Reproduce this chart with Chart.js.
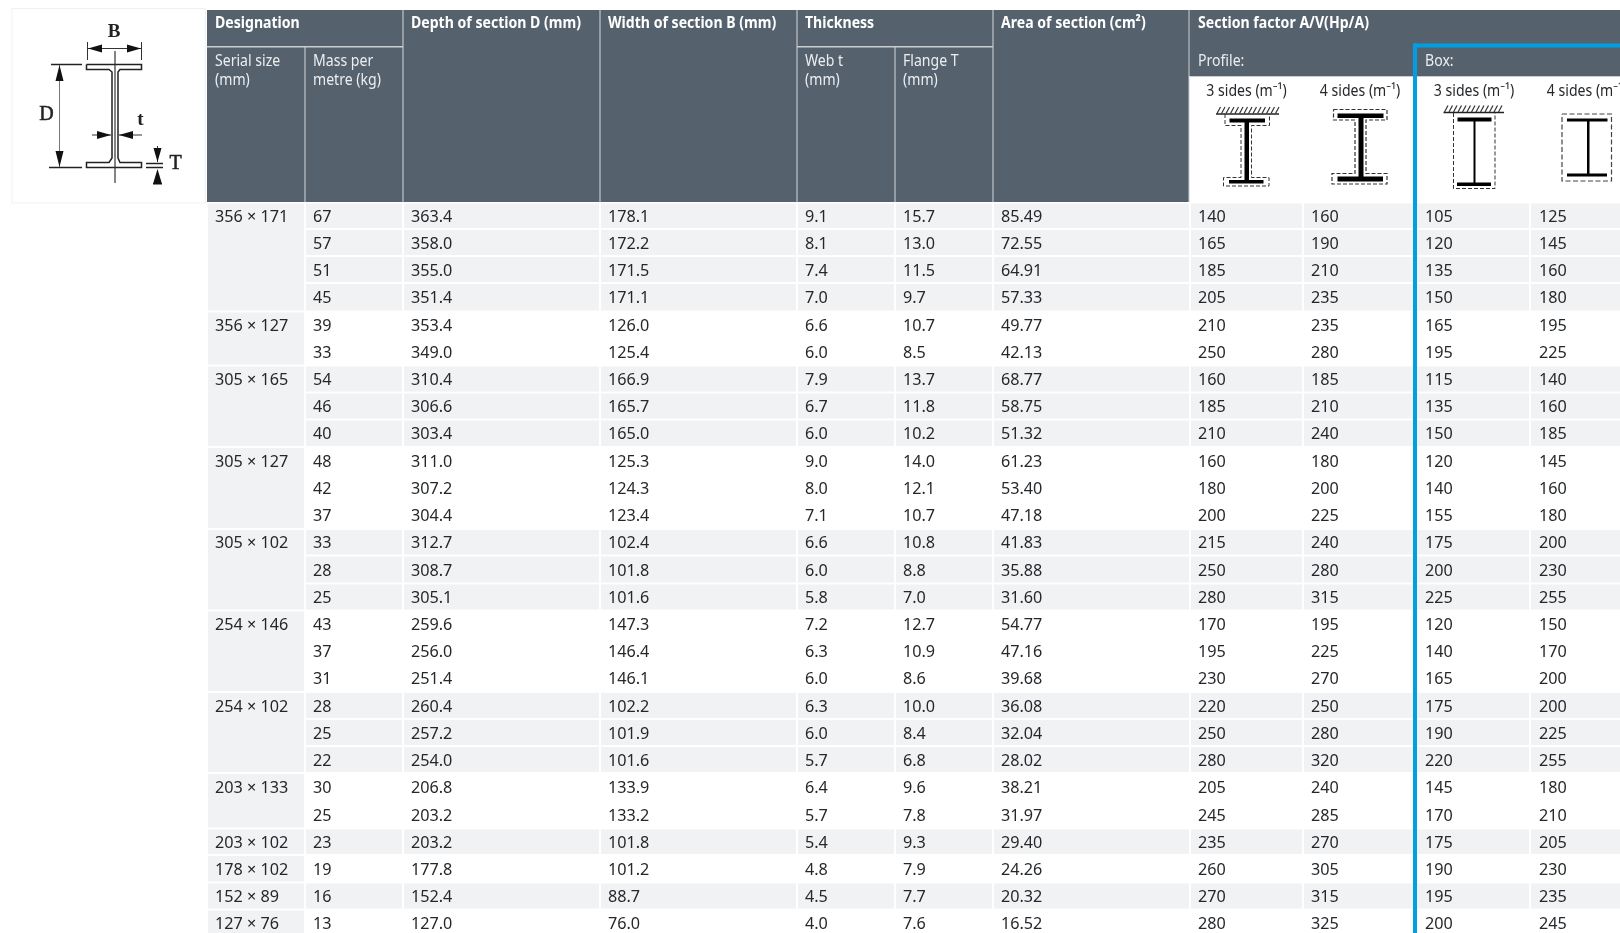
<!DOCTYPE html>
<html>
<head>
<meta charset="utf-8">
<title>Section table</title>
<script src="https://cdn.jsdelivr.net/npm/chart.js@4"></script>
<style>
  html, body { margin: 0; padding: 0; background: #fff; overflow: hidden; }
  canvas { display: block; }
</style>
</head>
<body>
<canvas id="myChart" width="1620" height="933"></canvas>
<script>
const serialSizes = ['356 × 171', '356 × 127', '305 × 165', '305 × 127', '305 × 102', '254 × 146', '254 × 102', '203 × 133', '203 × 102', '178 × 102', '152 × 89', '127 × 76'];
const groupSizes = [4, 2, 3, 3, 3, 3, 3, 2, 1, 1, 1, 1];
const mass = ['67', '57', '51', '45', '39', '33', '54', '46', '40', '48', '42', '37', '33', '28', '25', '43', '37', '31', '28', '25', '22', '30', '25', '23', '19', '16', '13'];
const depth = ['363.4', '358.0', '355.0', '351.4', '353.4', '349.0', '310.4', '306.6', '303.4', '311.0', '307.2', '304.4', '312.7', '308.7', '305.1', '259.6', '256.0', '251.4', '260.4', '257.2', '254.0', '206.8', '203.2', '203.2', '177.8', '152.4', '127.0'];
const width = ['178.1', '172.2', '171.5', '171.1', '126.0', '125.4', '166.9', '165.7', '165.0', '125.3', '124.3', '123.4', '102.4', '101.8', '101.6', '147.3', '146.4', '146.1', '102.2', '101.9', '101.6', '133.9', '133.2', '101.8', '101.2', '88.7', '76.0'];
const webT = ['9.1', '8.1', '7.4', '7.0', '6.6', '6.0', '7.9', '6.7', '6.0', '9.0', '8.0', '7.1', '6.6', '6.0', '5.8', '7.2', '6.3', '6.0', '6.3', '6.0', '5.7', '6.4', '5.7', '5.4', '4.8', '4.5', '4.0'];
const flangeT = ['15.7', '13.0', '11.5', '9.7', '10.7', '8.5', '13.7', '11.8', '10.2', '14.0', '12.1', '10.7', '10.8', '8.8', '7.0', '12.7', '10.9', '8.6', '10.0', '8.4', '6.8', '9.6', '7.8', '9.3', '7.9', '7.7', '7.6'];
const area = ['85.49', '72.55', '64.91', '57.33', '49.77', '42.13', '68.77', '58.75', '51.32', '61.23', '53.40', '47.18', '41.83', '35.88', '31.60', '54.77', '47.16', '39.68', '36.08', '32.04', '28.02', '38.21', '31.97', '29.40', '24.26', '20.32', '16.52'];
const profile3 = ['140', '165', '185', '205', '210', '250', '160', '185', '210', '160', '180', '200', '215', '250', '280', '170', '195', '230', '220', '250', '280', '205', '245', '235', '260', '270', '280'];
const profile4 = ['160', '190', '210', '235', '235', '280', '185', '210', '240', '180', '200', '225', '240', '280', '315', '195', '225', '270', '250', '280', '320', '240', '285', '270', '305', '315', '325'];
const box3 = ['105', '120', '135', '150', '165', '195', '115', '135', '150', '120', '140', '155', '175', '200', '225', '120', '140', '165', '175', '190', '220', '145', '170', '175', '190', '195', '200'];
const box4 = ['125', '145', '160', '180', '195', '225', '140', '160', '185', '145', '160', '180', '200', '230', '255', '150', '170', '200', '200', '225', '255', '180', '210', '205', '230', '235', '245'];

// layout, in the page's own units (the two hidden linear scales run 0-1620 and 0-933)
const columnEdges = [207, 305, 403, 600, 797, 895, 993, 1190, 1303, 1416, 1530, 1643];
const rowTops = [203.5, 230, 257, 284, 312.5, 339.5, 366.5, 393.5, 420.5, 448, 475, 502, 530, 556.5, 584.5, 611.5, 638.5, 665.5, 693, 720, 747, 774, 801.5, 829.5, 856, 883.5, 910.5, 937];

const colours = {
  header: '#55616d',
  divider: '#c9cdd1',
  stripe: '#f1f2f4',
  text: '#25282b',
  blue: '#009fe3'
};
const bodyFont = '16.2px "Noto Sans"';
const boldFont = 'bold 16px "Noto Sans"';
const subFont = '16px "Noto Sans"';
const narrow = 0.88; // the header type in the reference is a condensed cut

const columns = [mass, depth, width, webT, flangeT, area, profile3, profile4, box3, box4];

const rowMid = (row) => (rowTops[row] + rowTops[row + 1] - 2) / 2 + 1.5;

const datasets = columns.map((values, col) => ({
  label: 'col' + col,
  pointRadius: 0,
  showLine: false,
  texts: values,
  data: values.map((_, row) => ({ x: columnEdges[col + 1] + (col >= 8 ? 9 : 8), y: rowMid(row) }))
}));

function groupStarts() {
  let start = 0;
  return groupSizes.map((n) => { const s = start; start += n; return s; });
}

const tablePlugin = {
  id: 'sectionTable',
  beforeDatasetsDraw(chart) {
    const ctx = chart.ctx;
    const sx = chart.scales.x, sy = chart.scales.y;
    const rect = (x0, y0, x1, y1, fill) => {
      ctx.fillStyle = fill;
      ctx.fillRect(sx.getPixelForValue(x0), sy.getPixelForValue(y0), sx.getPixelForValue(x1) - sx.getPixelForValue(x0), sy.getPixelForValue(y1) - sy.getPixelForValue(y0));
    };

    // header blocks
    rect(207, 10, 1620, 76, colours.header);
    rect(207, 10, 1189, 202, colours.header);
    rect(1190, 76, 1620, 77, colours.divider);
    [305, 403, 600, 797, 895, 993, 1189].forEach((x, i) => {
      const top = (i === 0 || i === 4) ? 47 : 10;
      rect(x - 0.5, top, x + 0.5, 202, i === 6 ? colours.divider : '#d5d8db');
    });
    rect(207, 46, 403, 47.5, colours.divider);
    rect(797, 46, 993, 47.5, colours.divider);

    // body cells
    const starts = groupStarts();
    groupSizes.forEach((n, g) => {
      const first = starts[g];
      rect(208, rowTops[first], 304, rowTops[first + n] - 2, colours.stripe);
      if (g % 2 === 0) {
        for (let r = first; r < first + n; r++) {
          for (let c = 1; c < columnEdges.length - 1; c++) {
            rect(columnEdges[c] + 1, rowTops[r], columnEdges[c + 1] - 1, rowTops[r + 1] - 2, colours.stripe);
          }
        }
      }
    });

    // blue frame round the box columns
    rect(1413, 43.5, 1620, 47.5, colours.blue);
    rect(1413, 43.5, 1417, 933, colours.blue);

    drawDiagram(chart);
    drawProfileIcons(chart);
  },
  afterDatasetsDraw(chart) {
    const ctx = chart.ctx;
    const sx = chart.scales.x, sy = chart.scales.y;
    ctx.save();
    ctx.textBaseline = 'middle';
    ctx.textAlign = 'left';
    ctx.font = bodyFont;
    ctx.fillStyle = colours.text;

    // body values, placed at the points the library worked out
    chart.data.datasets.forEach((ds, idx) => {
      chart.getDatasetMeta(idx).data.forEach((pt, i) => {
        ctx.fillText(ds.texts[i], pt.x, pt.y);
      });
    });

    const starts = groupStarts();
    serialSizes.forEach((s, g) => {
      ctx.fillText(s, sx.getPixelForValue(215), sy.getPixelForValue(rowMid(starts[g])));
    });

    const label = (text, x, y, font, fill, align) => {
      ctx.save();
      ctx.font = font;
      ctx.fillStyle = fill;
      ctx.textAlign = align || 'left';
      ctx.translate(sx.getPixelForValue(x), sy.getPixelForValue(y));
      ctx.scale(narrow, 1);
      ctx.fillText(text, 0, 0);
      ctx.restore();
    };
    [['Designation', 215], ['Depth of section D (mm)', 411], ['Width of section B (mm)', 608], ['Thickness', 805], ['Area of section (cm²)', 1001], ['Section factor A/V(Hp/A)', 1198]].forEach(([t, x]) => {
      label(t, x, 23, boldFont, '#ffffff');
    });
    [['Serial size', '(mm)', 215], ['Mass per', 'metre (kg)', 313], ['Web t', '(mm)', 805], ['Flange T', '(mm)', 903]].forEach(([a, b, x]) => {
      label(a, x, 61, subFont, '#eceef0');
      label(b, x, 80, subFont, '#eceef0');
    });
    label('Profile:', 1198, 61, subFont, '#eceef0');
    label('Box:', 1425, 61, subFont, '#eceef0');
    label('3 sides (m⁻¹)', 1246.5, 91, subFont, colours.text, 'center');
    label('4 sides (m⁻¹)', 1360, 91, subFont, colours.text, 'center');
    label('3 sides (m⁻¹)', 1474, 91, subFont, colours.text, 'center');
    label('4 sides (m⁻¹)', 1587, 91, subFont, colours.text, 'center');
    ctx.restore();
  }
};

function penFor(chart) {
  const ctx = chart.ctx;
  const sx = chart.scales.x, sy = chart.scales.y;
  const X = (v) => sx.getPixelForValue(v);
  const Y = (v) => sy.getPixelForValue(v);
  return {
    ctx, X, Y,
    line(points, w, colour, dash) {
      ctx.save();
      ctx.strokeStyle = colour || '#111';
      ctx.lineWidth = w || 1;
      ctx.setLineDash(dash || []);
      ctx.beginPath();
      points.forEach(([x, y], i) => (i ? ctx.lineTo(X(x), Y(y)) : ctx.moveTo(X(x), Y(y))));
      ctx.stroke();
      ctx.restore();
    },
    box(x0, y0, x1, y1, colour) {
      ctx.fillStyle = colour || '#000';
      ctx.fillRect(X(x0), Y(y0), X(x1) - X(x0), Y(y1) - Y(y0));
    },
    head(tipX, tipY, baseX, baseY, half) {
      const dx = baseX - tipX, dy = baseY - tipY;
      const len = Math.hypot(dx, dy);
      const nx = -dy / len * half, ny = dx / len * half;
      ctx.fillStyle = '#111';
      ctx.beginPath();
      ctx.moveTo(X(tipX), Y(tipY));
      ctx.lineTo(X(baseX + nx), Y(baseY + ny));
      ctx.lineTo(X(baseX - nx), Y(baseY - ny));
      ctx.closePath();
      ctx.fill();
    }
  };
}

function drawDiagram(chart) {
  const p = penFor(chart);
  const ctx = p.ctx;
  p.line([[12, 8.5], [205.5, 8.5], [205.5, 203], [12, 203], [12, 8.5]], 1, '#f0f1f2');

  // I section outline
  p.line([[86.5, 64.5], [141.5, 64.5], [141.5, 69.5], [120, 69.5], [118, 72], [118, 158], [120, 162.5], [141.5, 162.5], [141.5, 167.5], [86.5, 167.5], [86.5, 162.5], [109, 162.5], [112, 158], [112, 72], [109, 69.5], [86.5, 69.5], [86.5, 64.5]], 1.5, '#222');
  p.line([[115, 51], [115, 183]], 1.2, '#333');

  // B
  p.line([[87.5, 42], [87.5, 60]], 1, '#333');
  p.line([[141.5, 42], [141.5, 60]], 1, '#333');
  p.line([[88, 48.5], [141, 48.5]], 1, '#333');
  p.head(88, 48.5, 102, 48.5, 4);
  p.head(141, 48.5, 127, 48.5, 4);

  // D
  p.line([[51, 64.5], [82, 64.5]], 1.5, '#222');
  p.line([[49, 167.5], [82, 167.5]], 1.5, '#222');
  p.line([[59.5, 65], [59.5, 167]], 1, '#777');
  p.head(59.5, 65, 59.5, 81, 4);
  p.head(59.5, 167, 59.5, 151, 4);

  // t
  p.line([[92, 135], [111, 135]], 1, '#333');
  p.line([[119, 135], [142, 135]], 1, '#333');
  p.head(111, 135, 97, 135, 4);
  p.head(119, 135, 133, 135, 4);

  // T
  p.line([[146, 163.5], [163, 163.5]], 1.5, '#222');
  p.line([[146, 167.5], [163, 167.5]], 1.5, '#222');
  p.line([[157.5, 146], [157.5, 162]], 1, '#333');
  p.head(157.5, 162, 157.5, 148, 4);
  p.head(157.5, 169, 157.5, 184, 4.5);
  p.box(153, 183, 162, 184.5, '#111');

  ctx.save();
  ctx.fillStyle = '#222';
  ctx.strokeStyle = '#222';
  ctx.lineWidth = 0.5;
  ctx.font = 'bold 19px "Liberation Serif"';
  ctx.textAlign = 'center';
  ctx.textBaseline = 'middle';
  ctx.fillText('B', p.X(114), p.Y(32));
  ctx.font = '20px "Liberation Serif"';
  ctx.fillText('D', p.X(46.5), p.Y(115));
  ctx.strokeText('D', p.X(46.5), p.Y(115));
  ctx.fillText('T', p.X(175.5), p.Y(164));
  ctx.strokeText('T', p.X(175.5), p.Y(164));
  ctx.font = 'bold 19px "Liberation Serif"';
  ctx.fillText('t', p.X(140.5), p.Y(120));
  ctx.restore();
}

function hatch(p, x0, x1, yLine, h) {
  p.line([[x0, yLine], [x1, yLine]], 1.4, '#222');
  for (let x = x0 + 1; x < x1 - 3; x += 4.5) {
    p.line([[x, yLine - 0.5], [x + 3.5, yLine - h]], 1.2, '#333');
  }
}

function drawProfileIcons(chart) {
  const p = penFor(chart);
  const dash = [4, 2];
  const dashCol = '#333';

  // profile, 3 sides
  hatch(p, 1216, 1279, 114, 7);
  p.box(1229.5, 118.5, 1265, 122.5);
  p.box(1244.5, 122, 1249, 181);
  p.box(1229, 180, 1263.5, 183.5);
  p.line([[1225, 114], [1225, 125.5], [1241, 125.5], [1241, 177.5], [1223.5, 177.5], [1223.5, 186], [1269, 186], [1269, 177.5], [1251.5, 177.5], [1251.5, 125.5], [1269.5, 125.5], [1269.5, 114]], 1, dashCol, dash);

  // profile, 4 sides
  p.box(1337.5, 113.5, 1383.5, 118);
  p.box(1358.5, 117, 1363.5, 177);
  p.box(1337.5, 176.5, 1383, 181.5);
  p.line([[1333.5, 109.5], [1387, 109.5], [1387, 120], [1366, 120], [1366, 173.5], [1387, 173.5], [1387, 184], [1332, 184], [1332, 173.5], [1355, 173.5], [1355, 120], [1333.5, 120], [1333.5, 109.5]], 1.2, dashCol, dash);

  // box, 3 sides
  hatch(p, 1443.5, 1504, 112.5, 7);
  p.box(1457.5, 117.5, 1491.5, 121.5);
  p.box(1473.5, 121, 1475.5, 183);
  p.box(1457, 182.5, 1491, 186);
  p.line([[1453.5, 113], [1453.5, 188.5], [1495, 188.5], [1495, 113]], 1, dashCol, dash);

  // box, 4 sides
  p.box(1567, 118.5, 1607.5, 121.5);
  p.box(1587, 121, 1589.5, 174);
  p.box(1567, 173.5, 1607, 176.5);
  p.line([[1562, 114], [1611.5, 114], [1611.5, 181], [1562, 181], [1562, 114]], 1.2, '#444', [5, 2.5]);
}

new Chart('myChart', {
  type: 'scatter',
  data: { datasets },
  plugins: [tablePlugin],
  options: {
    responsive: false,
    animation: false,
    events: [],
    layout: { padding: 0 },
    plugins: {
      legend: { display: false },
      tooltip: { enabled: false }
    },
    scales: {
      x: { type: 'linear', min: 0, max: 1620, display: false },
      y: { type: 'linear', min: 0, max: 933, reverse: true, display: false }
    }
  }
});
</script>
</body>
</html>
